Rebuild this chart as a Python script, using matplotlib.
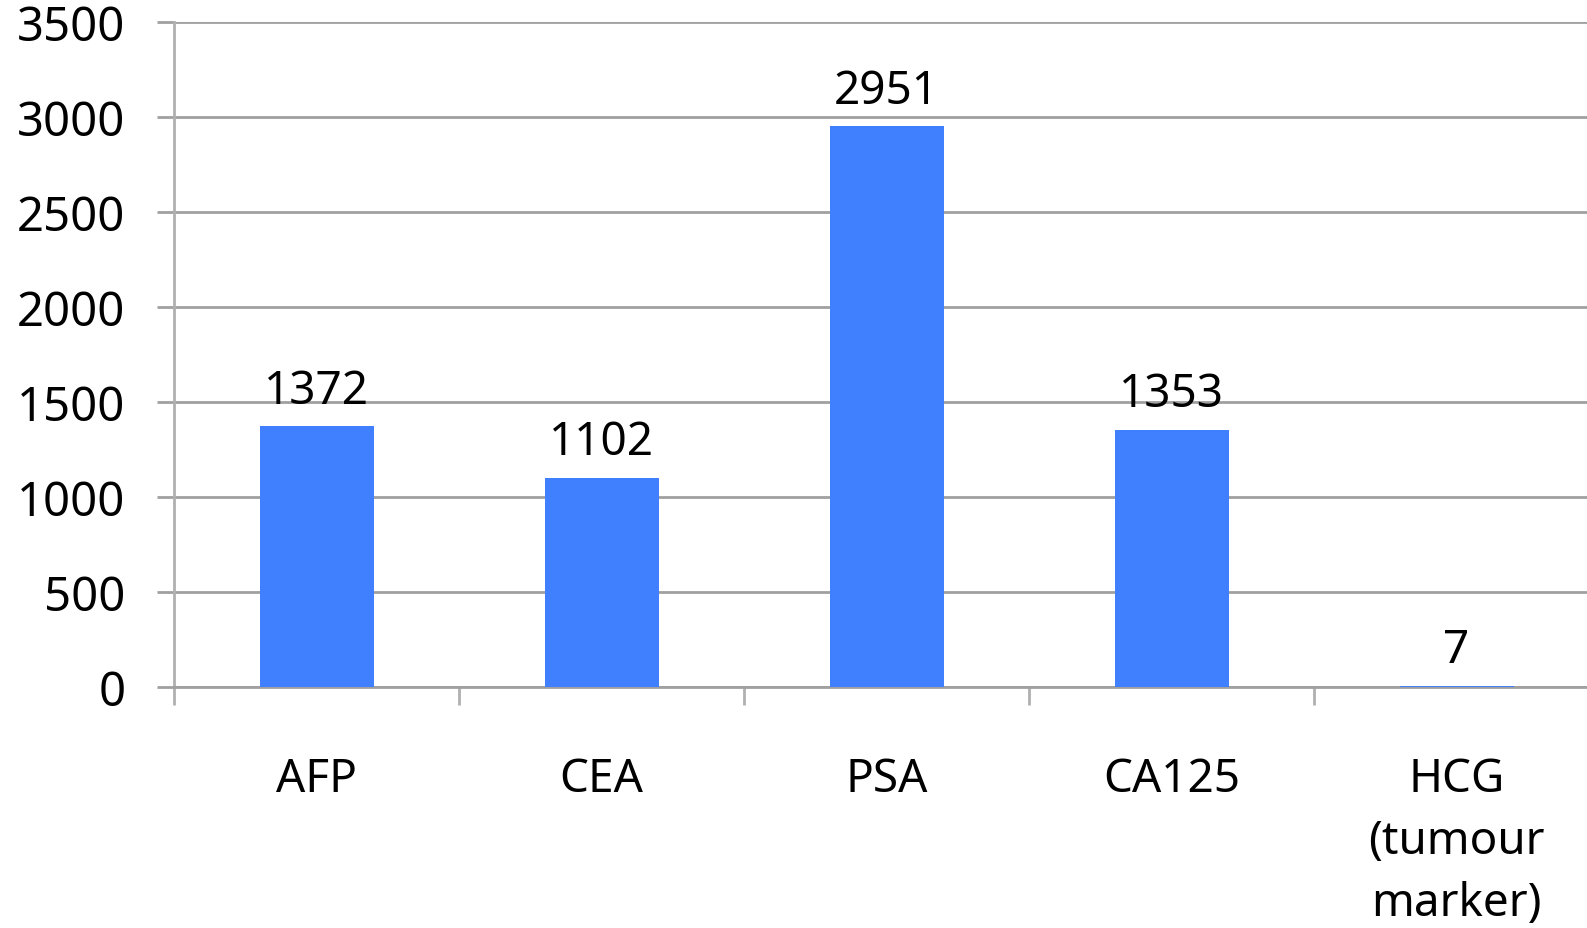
import matplotlib.pyplot as plt
import numpy as np

markers = ['AFP', 'CEA', 'PSA', 'CA125', 'HCG\n(tumour\nmarker)']
counts = [1372, 1102, 2951, 1353, 7]
y_ticks = [0, 500, 1000, 1500, 2000, 2500, 3000, 3500]

plt.rcParams['font.family'] = ['Noto Sans', 'DejaVu Sans']

fig = plt.figure(figsize=(15.87, 9.29), dpi=100)
# plot area runs a little past the right edge of the picture, as in the source
ax = fig.add_axes([174 / 1587, 241 / 929, 1425 / 1587, 665 / 929])

x = np.arange(len(markers))
bars = ax.bar(x, counts, width=0.4, color='#4080ff', zorder=3)

ax.set_xlim(-0.5, len(markers) - 0.5)
ax.set_ylim(0, 3500)
ax.set_yticks(y_ticks)
ax.set_yticklabels([str(v) for v in y_ticks])
ax.yaxis.grid(True, color='#a0a0a0', lw=2, zorder=0)

ax.set_xticks(x)
ax.set_xticklabels(markers, linespacing=1.45)
ax.set_xticks(np.arange(len(markers)) - 0.5, minor=True)

ax.tick_params(axis='y', length=12, width=2, color='#a0a0a0', pad=23, labelsize=34)
ax.tick_params(axis='x', which='major', length=0, pad=50, labelsize=33)
ax.tick_params(axis='x', which='minor', length=13, width=2, color='#b0b0b0')

for s in ['top', 'right']:
    ax.spines[s].set_visible(False)
ax.spines['left'].set_color('#b0b0b0')
ax.spines['left'].set_linewidth(2)
ax.spines['bottom'].set_color('#a0a0a0')
ax.spines['bottom'].set_linewidth(2)

for b, v in zip(bars, counts):
    ax.annotate(str(v), (b.get_x() + b.get_width() / 2, v),
                xytext=(0, 9), textcoords='offset points',
                ha='center', va='bottom', fontsize=33)

fig.savefig('out.png', dpi=100)
